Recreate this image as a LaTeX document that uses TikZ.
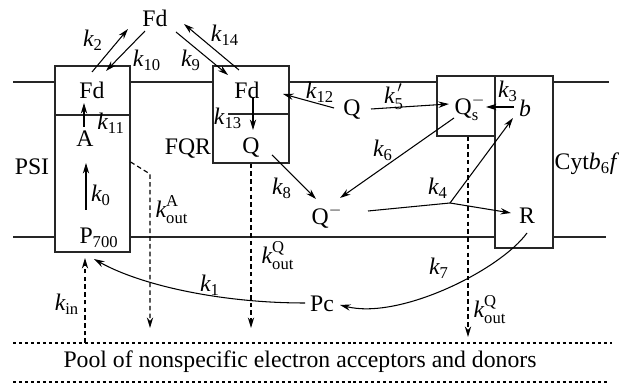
\documentclass[tikz,border=0pt]{standalone}
\usepackage{fontspec}
\usepackage{amsmath}
\setmainfont{Liberation Serif}
\usetikzlibrary{calc,arrows.meta,positioning}
\newcommand{\rk}[1]{$\textit{k}_{\text{#1}}$}
\newcommand{\rkout}[1]{$\textit{k}_{\text{out}}^{\text{#1}}$}
\tikzset{
    membrane/.style={line width=0.7pt,black!85},
    cbox/.style={draw,line width=0.7pt,inner sep=0pt,black!85},
    species/.style={inner sep=1pt},
    flux/.style={->,line width=0.6pt},
    leak/.style={->,line width=0.65pt,dash pattern=on 2.6pt off 1.8pt},
    poolline/.style={line width=0.6pt,dash pattern=on 1.7pt off 1.7pt},
    >={Stealth[length=6pt,width=3.6pt]}
}

\begin{document}
\begin{tikzpicture}[x=0.02cm,y=-0.02cm,every node/.style={font=\fontsize{13.5}{16}\selectfont}]
\useasboundingbox (0,0) rectangle (629,384);
% complexes
\node[cbox,minimum width=1.5cm,minimum height=3.72cm] (psi) at (92.5,159) {};
\node[cbox,minimum width=1.52cm,minimum height=1.94cm] (fqr) at (251,114.5) {};
\node[cbox,minimum width=1.16cm,minimum height=1.2cm] (qsbox) at (466,106) {};
\node[cbox,minimum width=1.16cm,minimum height=3.44cm] (cyt) at (524,162) {};
\draw[membrane] (55,115) -- (130,115);
\draw[membrane] (228,114) -- (289,114);
% membrane
\draw[membrane] (13,82) -- (55,82) (130,82) -- (213,82) (289,82) -- (437,82) (553,82) -- (609,82);
\draw[membrane] (13,237) -- (55,237) (130,237) -- (495,237) (553,237) -- (606,237);
% pool
\draw[poolline] (13,343) -- (612,343);
\draw[poolline] (13,382) -- (608,382);
\node (pool) at (300,362) {Pool of nonspecific electron acceptors and donors};

\node (psilbl) at (32,167) {PSI};
\node (fqrlbl) at (188,149) {FQR};
\node (cytlbl) at (587,164) {Cyt\textit{b}$_{\text{6}}$\textit{f}};

\node[species] (fdt) at (155,18) {Fd};
\node[species] (fda) at (92,90) {Fd};
\node[species] (a) at (85,139) {A};
\node[species] (p700) at (99,238) {P$_{\text{700}}$};
\node[species] (fdq) at (247,90) {Fd};
\node[species] (qf) at (251,148) {Q};
\node[species] (qm) at (352,110) {Q};
\node[species] (qs) at (470,108) {$\text{Q}_{\text{s}}^{-}$};
\node[species] (b) at (525,108) {\textit{b}};
\node[species] (qn) at (327,217) {$\text{Q}^{-}$};
\node[species] (r) at (527,216) {R};
\node[species] (pc) at (322,304) {Pc};

\foreach \n/\x/\y in {0/101/195,1/210/285,2/93/40,3/508/91,4/438/188,6/383/150,7/439/268,
    8/282/188,9/191/60,10/147/60,11/111/123,12/320/92,13/228/118,14/225/35}
    \node (k\n) at (\x,\y) {\rk{\n}};
\node (k5) at (394,97) {$\textit{k}_{\text{5}}^{\,\prime}$};
\node (kin) at (67,304) {\rk{in}};
\node (koutA) at (172,210) {\rkout{A}};
\node (koutQ) at (278,256) {\rkout{Q}};
\node (koutQs) at (490,310) {\rkout{Q}};

% electron transfer
\draw[flux] ([shift={(0,-18)}]fda.center) -- ([shift={(-27,11)}]fdt.center);
\draw[flux] ([shift={(-10,13)}]fdt.center) -- ([shift={(14,-19)}]fda.center);
\draw[flux] ([shift={(21,14)}]fdt.center) -- ([shift={(-19,-15)}]fdq.center);
\draw[flux] ([shift={(-8,-20)}]fdq.center) -- ([shift={(29,6)}]fdt.center);
\draw[flux] ([shift={(-1,-12)}]a.center) -- ([shift={(-8,13)}]fda.center);
\draw[flux] ([shift={(-13,-28)}]p700.center) -- ([shift={(1,24)}]a.center);
\draw[flux] ([shift={(6,8)}]fdq.center) -- ([shift={(2,-18)}]qf.center);
\draw[flux] ([shift={(-18,-2)}]qm.center) -- ([shift={(36,4)}]fdq.center);
\draw[flux] ([shift={(19,-1)}]qm.center) -- ([shift={(-21,-4)}]qs.center);
\draw[flux] ([shift={(-11,-1)}]b.center) -- ([shift={(16,-1)}]qs.center);
\draw[flux] ([shift={(-16,10)}]qs.center) -- ([shift={(13,-19)}]qn.center);
\draw[flux] ([shift={(21,7)}]qf.center) -- ([shift={(-11,-18)}]qn.center);
\coordinate (fork) at (450,203);
\draw[line width=0.6pt] ([shift={(41,-6)}]qn.center) -- (fork);
\draw[flux] (fork) -- ([shift={(-16,-3)}]r.center);
\draw[flux] (fork) -- ([shift={(-12,10)}]b.center);
\draw[flux] ([shift={(0,17)}]r.center) .. controls (500,270) and (400,320) .. ([shift={(18,1)}]pc.center);
\draw[flux] ([shift={(-17,-1)}]pc.center) .. controls (220,303) and (140,285) .. ([shift={(-5,21)}]p700.center);
% exchange with the pool
\coordinate (inlet) at (85,343);
\coordinate (outA) at (150,328);
\coordinate (outQ) at (468,337);
\draw[leak] (inlet) -- ([shift={(-14,20)}]p700.center);
\draw[leak] ([shift={(0,3)}]psi.east) -- (150,174) -- (outA);
\draw[leak] (fqr.south) -- (fqr.south |- outA);
\draw[leak] ([xshift=0.04cm]qsbox.south) -- ([xshift=0.04cm]qsbox.south |- outQ);
\end{tikzpicture}
\end{document}
